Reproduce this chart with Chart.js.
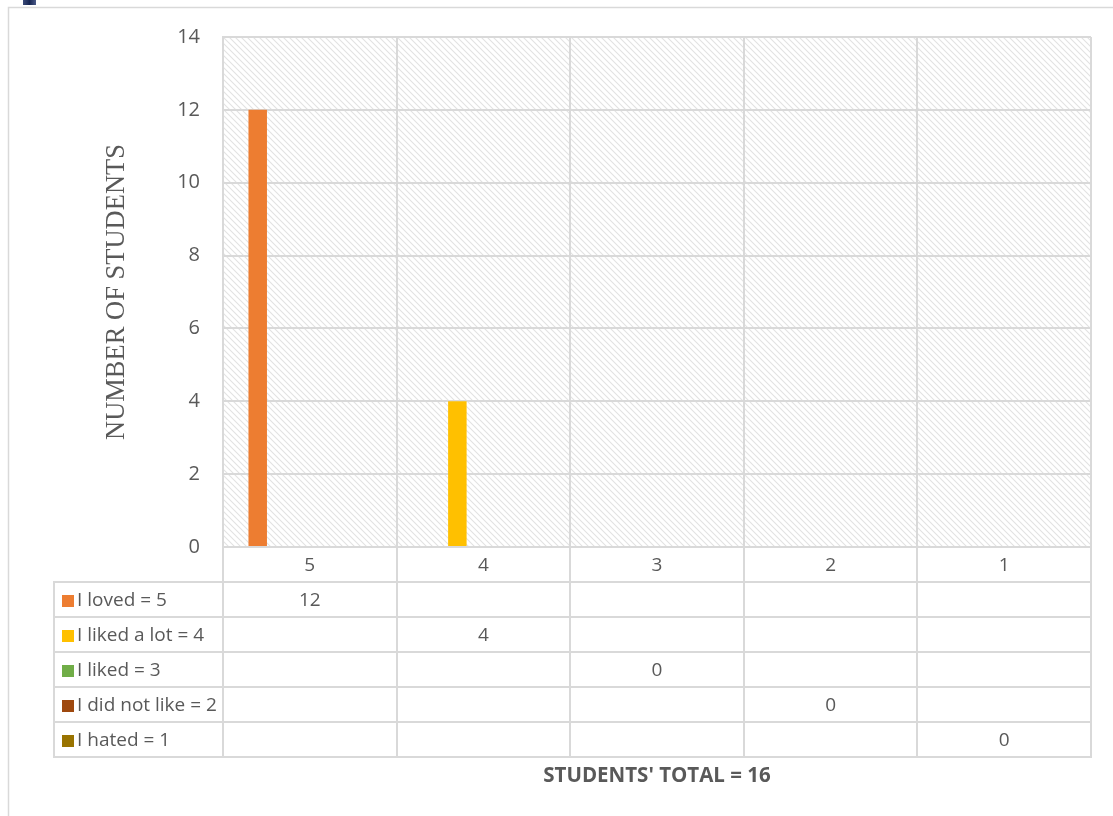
<!DOCTYPE html>
<html>
<head>
<meta charset="utf-8">
<title>Students' ratings</title>
<script src="https://cdn.jsdelivr.net/npm/chart.js@4"></script>
<style>
  html, body { margin: 0; padding: 0; background: #ffffff; }
  #wrap { position: relative; width: 1113px; height: 816px; }
  canvas { display: block; }
</style>
</head>
<body>
<div id="wrap"><canvas id="chart" width="1113" height="816"></canvas></div>
<script>
// Rating categories shown along the horizontal axis
const categories = ['5', '4', '3', '2', '1'];

// One series per answer; each answer only has a count in its own category
const seriesNames = ['I loved = 5', 'I liked a lot = 4', 'I liked = 3', 'I did not like = 2', 'I hated = 1'];
const lovedCounts    = [12, null, null, null, null];
const likedLotCounts = [null, 4, null, null, null];
const likedCounts    = [null, null, 0, null, null];
const dislikedCounts = [null, null, null, 0, null];
const hatedCounts    = [null, null, null, null, 0];

// Value axis ticks
const yTicks = [0, 2, 4, 6, 8, 10, 12, 14];

const seriesColors = ['#ED7D31', '#FFC000', '#70AD47', '#9E480E', '#997300'];
const seriesValues = [lovedCounts, likedLotCounts, likedCounts, dislikedCounts, hatedCounts];

const totalStudents = 16;
const GRID = '#d9d9d9';
const TEXT = '#595959';
const ROW_H = 35;
const TABLE_LEFT = 54;

// Diagonal hatch used to fill the plot area
function makeHatch(ctx) {
  const t = document.createElement('canvas');
  t.width = 6; t.height = 6;
  const c = t.getContext('2d');
  c.strokeStyle = '#e2e2e2';
  c.lineWidth = 1.1;
  c.beginPath();
  c.moveTo(-1, -1); c.lineTo(7, 7);
  c.moveTo(-1, 5); c.lineTo(1, 7);
  c.moveTo(5, -1); c.lineTo(7, 1);
  c.stroke();
  return ctx.createPattern(t, 'repeat');
}

const framePlugin = {
  id: 'frame',
  beforeDraw(chart) {
    const { ctx, chartArea: a } = chart;
    ctx.save();
    ctx.fillStyle = '#ffffff';
    ctx.fillRect(0, 0, chart.width, chart.height);
    // outer chart border
    ctx.strokeStyle = GRID;
    ctx.lineWidth = 1.5;
    ctx.beginPath();
    ctx.moveTo(8.5, chart.height); ctx.lineTo(8.5, 7.5); ctx.lineTo(chart.width, 7.5);
    ctx.stroke();
    // small dark mark at the top edge
    const g = ctx.createLinearGradient(23, 0, 36, 0);
    g.addColorStop(0, '#3a4a78'); g.addColorStop(0.5, '#162552'); g.addColorStop(1, '#4a5a88');
    ctx.fillStyle = g;
    ctx.fillRect(23, 0, 13, 5);
    // hatched plot background
    ctx.fillStyle = makeHatch(ctx);
    ctx.fillRect(a.left, a.top, a.right - a.left, a.bottom - a.top);
    ctx.restore();
  },
  afterDraw(chart) {
    const { ctx, chartArea: a } = chart;
    const x = chart.scales.x;
    const n = categories.length;
    const step = (a.right - a.left) / n;
    const rows = seriesNames.length;
    const tableBottom = a.bottom + ROW_H * (rows + 1);

    ctx.save();
    ctx.strokeStyle = GRID;
    ctx.lineWidth = 2;
    ctx.beginPath();
    // vertical lines through header and data rows
    for (let i = 0; i <= n; i++) {
      const px = Math.round(a.left + step * i);
      ctx.moveTo(px, a.bottom); ctx.lineTo(px, tableBottom);
    }
    ctx.moveTo(TABLE_LEFT, a.bottom + ROW_H); ctx.lineTo(TABLE_LEFT, tableBottom);
    // horizontal row lines
    for (let r = 1; r <= rows + 1; r++) {
      const py = Math.round(a.bottom + ROW_H * r);
      ctx.moveTo(TABLE_LEFT - 1, py); ctx.lineTo(a.right + 1, py);
    }
    ctx.stroke();

    ctx.fillStyle = TEXT;
    ctx.font = '19px "Open Sans"';
    ctx.textBaseline = 'middle';
    ctx.textAlign = 'center';
    // header row: category labels
    categories.forEach((c, i) => {
      ctx.fillText(c, x.getPixelForValue(i), a.bottom + ROW_H / 2 + 1);
    });
    // series rows
    seriesNames.forEach((name, r) => {
      const cy = a.bottom + ROW_H * (r + 1) + ROW_H / 2 + 1;
      ctx.fillStyle = seriesColors[r];
      ctx.fillRect(62, Math.round(cy - 6), 12, 12);
      ctx.fillStyle = TEXT;
      ctx.textAlign = 'left';
      ctx.fillText(name, 77, cy);
      ctx.textAlign = 'center';
      seriesValues[r].forEach((v, i) => {
        if (v !== null) ctx.fillText(String(v), x.getPixelForValue(i), cy);
      });
    });

    // axis title under the table
    ctx.font = 'bold 20.5px "Open Sans"';
    ctx.fillText("STUDENTS' TOTAL = " + totalStudents, (a.left + a.right) / 2, 776);
    ctx.restore();
  }
};

new Chart(document.getElementById('chart'), {
  type: 'bar',
  data: {
    labels: categories,
    datasets: seriesNames.map((name, i) => ({
      label: name,
      data: seriesValues[i],
      backgroundColor: seriesColors[i],
      borderWidth: 0,
      categoryPercentage: 0.75,
      barPercentage: 0.71
    }))
  },
  options: {
    responsive: false,
    devicePixelRatio: 1,
    animation: false,
    layout: { padding: { top: 37, right: 22, bottom: 269, left: 0 } },
    plugins: {
      legend: { display: false },
      tooltip: { enabled: false }
    },
    scales: {
      x: {
        offset: true,
        grid: { offset: true, color: GRID, lineWidth: 2, drawTicks: false },
        border: { display: false },
        ticks: { display: false },
        afterFit(scale) { scale.height = 0; }
      },
      y: {
        min: 0,
        max: 14,
        afterBuildTicks(scale) { scale.ticks = yTicks.map(v => ({ value: v })); },
        grid: { color: GRID, lineWidth: 2, drawTicks: false },
        border: { color: GRID, width: 2 },
        ticks: {
          color: TEXT,
          padding: 23,
          font: { family: '"Open Sans"', size: 20 }
        },
        title: {
          display: true,
          text: 'NUMBER OF STUDENTS',
          color: TEXT,
          font: { family: '"Liberation Serif", "Times New Roman", serif', size: 26.5 },
          padding: { top: 101, bottom: 0 }
        },
        afterFit(scale) { scale.width = 223; }
      }
    }
  },
  plugins: [framePlugin]
});
</script>
</body>
</html>
